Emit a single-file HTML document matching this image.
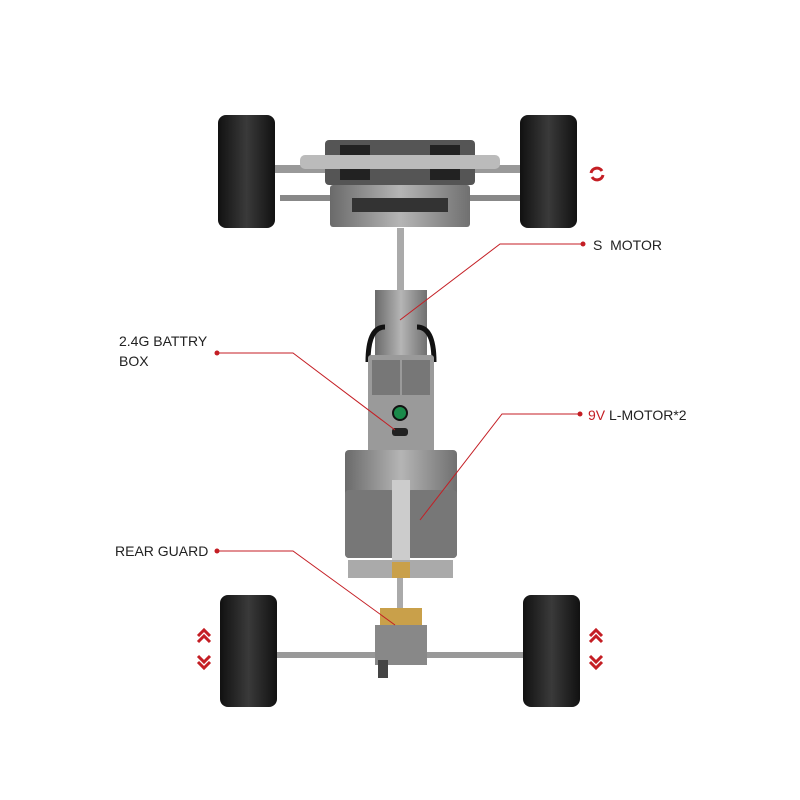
<!DOCTYPE html>
<html><head><style>
html,body{margin:0;padding:0;background:#fff}
svg{display:block}
text{font-family:"Liberation Sans",sans-serif;font-size:14px;fill:#222}
</style></head><body>
<svg width="800" height="800" viewBox="0 0 800 800" xmlns="http://www.w3.org/2000/svg">
<defs>
<linearGradient id="tire" x1="0" x2="1"><stop offset="0" stop-color="#111"/><stop offset=".5" stop-color="#3a3a3a"/><stop offset="1" stop-color="#111"/></linearGradient>
<linearGradient id="gray" x1="0" x2="1"><stop offset="0" stop-color="#6a6a6a"/><stop offset=".5" stop-color="#b5b5b5"/><stop offset="1" stop-color="#707070"/></linearGradient>
<pattern id="tread" width="57" height="10" patternUnits="userSpaceOnUse"><rect width="57" height="10" fill="none"/><line x1="0" y1="9" x2="57" y2="9" stroke="#000" stroke-width="1"/></pattern>
</defs>
<rect width="800" height="800" fill="#fff"/>
<!-- front axle -->
<rect x="270" y="165" width="260" height="8" fill="#999"/>
<rect x="280" y="195" width="240" height="6" fill="#888"/>
<rect x="325" y="140" width="150" height="45" fill="#555" rx="4"/>
<rect x="330" y="185" width="140" height="42" fill="url(#gray)" rx="3"/>
<rect x="340" y="145" width="30" height="35" fill="#222"/>
<rect x="430" y="145" width="30" height="35" fill="#222"/>
<rect x="352" y="198" width="96" height="14" fill="#333"/>
<rect x="300" y="155" width="200" height="14" fill="#bbb" rx="5"/>
<!-- wheels front -->
<rect x="218" y="115" width="57" height="113" rx="8" fill="url(#tire)"/>
<rect x="520" y="115" width="57" height="113" rx="8" fill="url(#tire)"/>
<!-- shaft -->
<rect x="397" y="228" width="7" height="65" fill="#aaa"/>
<!-- body -->
<rect x="375" y="290" width="52" height="80" fill="url(#gray)"/>
<path d="M368 362 q0 -35 17 -35 M434 362 q0 -35 -17 -35" stroke="#111" stroke-width="5" fill="none"/>
<rect x="368" y="355" width="66" height="115" fill="#9a9a9a" rx="3"/>
<rect x="372" y="360" width="28" height="35" fill="#777"/>
<rect x="402" y="360" width="28" height="35" fill="#777"/>
<circle cx="400" cy="413" r="7" fill="#1a8a4a" stroke="#111" stroke-width="2"/>
<rect x="392" y="428" width="16" height="8" fill="#222" rx="3"/>
<rect x="345" y="450" width="112" height="108" fill="url(#gray)" rx="4"/>
<rect x="345" y="490" width="50" height="68" fill="#777" rx="4"/>
<rect x="407" y="490" width="50" height="68" fill="#777" rx="4"/>
<rect x="392" y="480" width="18" height="80" fill="#ccc"/>
<rect x="348" y="560" width="105" height="18" fill="#aaa"/>
<rect x="392" y="562" width="18" height="16" fill="#c9a04a"/>
<!-- rear axle -->
<rect x="277" y="652" width="246" height="6" fill="#999"/>
<rect x="380" y="608" width="42" height="18" fill="#c9a04a"/>
<rect x="375" y="625" width="52" height="40" fill="#888"/>
<rect x="378" y="660" width="10" height="18" fill="#444"/>
<rect x="397" y="578" width="6" height="30" fill="#aaa"/>
<rect x="220" y="595" width="57" height="112" rx="8" fill="url(#tire)"/>
<rect x="523" y="595" width="57" height="112" rx="8" fill="url(#tire)"/>
<!-- red arrows -->
<g stroke="#c41e24" stroke-width="3" fill="none">
<path d="M198 636 l6 -6 l6 6 M198 642 l6 -6 l6 6"/>
<path d="M198 656 l6 6 l6 -6 M198 662 l6 6 l6 -6"/>
<path d="M590 636 l6 -6 l6 6 M590 642 l6 -6 l6 6"/>
<path d="M590 656 l6 6 l6 -6 M590 662 l6 6 l6 -6"/>
<path d="M591 173 a6 6 0 0 1 11 -2 M603 175 a6 6 0 0 1 -11 2"/>
</g>
<!-- leader lines -->
<g stroke="#c41e24" stroke-width="1" fill="none">
<path d="M583 244 L500 244 L400 320"/>
<path d="M217 353 L293 353 L395 430"/>
<path d="M580 414 L502 414 L420 520"/>
<path d="M217 551 L293 551 L395 625"/>
</g>
<g fill="#c41e24">
<circle cx="583" cy="244" r="2.5"/><circle cx="217" cy="353" r="2.5"/>
<circle cx="580" cy="414" r="2.5"/><circle cx="217" cy="551" r="2.5"/>
</g>
<text x="593" y="250">S&#160; MOTOR</text>
<text x="119" y="346">2.4G BATTRY</text>
<text x="119" y="366">BOX</text>
<text x="588" y="420"><tspan fill="#c41e24">9V</tspan> L-MOTOR*2</text>
<text x="115" y="556">REAR GUARD</text>
</svg>
</body></html>
